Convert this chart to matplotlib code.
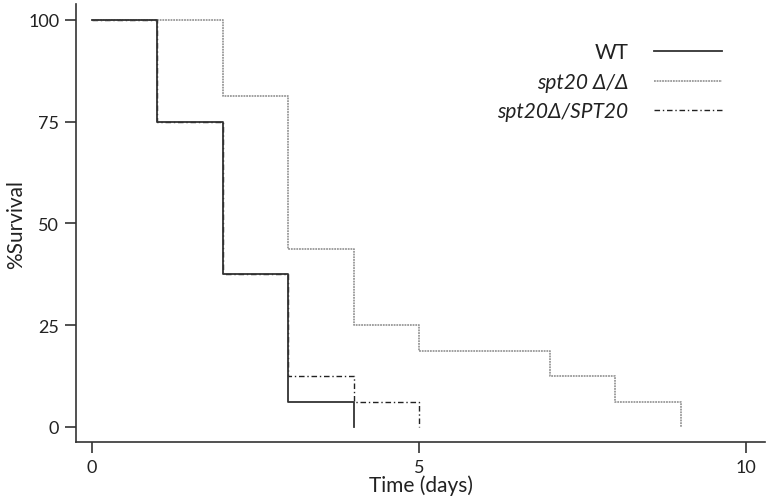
import matplotlib
matplotlib.use("Agg")
import matplotlib.pyplot as plt

plt.rcParams['font.family'] = ['Lato', 'DejaVu Sans']

# Kaplan-Meier style survival steps (days, % survival)
wt_t = [0, 1, 2, 3, 4, 4]
wt_s = [100, 75, 37.5, 6.25, 6.25, 0]

dd_t = [0, 2, 3, 4, 5, 7, 8, 9, 9]
dd_s = [100, 81.25, 43.75, 25, 18.75, 12.5, 6.25, 6.25, 0]

het_t = [0, 1, 2, 3, 4, 5, 5]
het_s = [100, 75, 37.5, 12.5, 6.25, 6.25, 0]

labels = ['WT', 'spt20 Δ/Δ', 'spt20Δ/SPT20']

fig = plt.figure(figsize=(7.7, 5.02), dpi=100)
ax = fig.add_axes([0.0987, 0.1175, 0.895, 0.8725])

l3, = ax.plot(het_t, het_s, drawstyle='steps-post', color='#222222', lw=1.0,
              linestyle=(0, (4, 2, 1, 2)), zorder=2)
l2, = ax.plot(dd_t, dd_s, drawstyle='steps-post', color='#999999', lw=1.3,
              linestyle=(0, (1, 0.5)), zorder=2)
l1, = ax.plot(wt_t, wt_s, drawstyle='steps-post', color='#333333', lw=1.3, zorder=3)

ax.set_xlim(-0.245, 10.29)
ax.set_ylim(-3.7, 103.9)
ax.set_xticks([0, 5, 10])
ax.set_yticks([0, 25, 50, 75, 100])
ax.spines['top'].set_visible(False)
ax.spines['right'].set_visible(False)
for s in ['left', 'bottom']:
    ax.spines[s].set_color('#333333')
    ax.spines[s].set_linewidth(1.2)
ax.tick_params(direction='out', length=8, width=1.2, color='#333333',
               labelsize=13, labelcolor='#222222', pad=4)

ax.set_xlabel('Time (days)', fontsize=15, labelpad=0, color='#222222')
ax.set_ylabel('%Survival', fontsize=15, color='#222222')
ax.yaxis.set_label_coords(-0.072, 0.5)

leg = ax.legend([l1, l2, l3], labels, loc='upper right', bbox_to_anchor=(0.965, 0.955),
                frameon=False, markerfirst=False, fontsize=15, handlelength=3.3,
                labelspacing=0.45, handletextpad=1.2)
for i, t in enumerate(leg.get_texts()):
    t.set_ha('right')
    t.set_color('#222222')
    if i > 0:
        t.set_fontstyle('italic')

fig.savefig('out.png', dpi=100)
